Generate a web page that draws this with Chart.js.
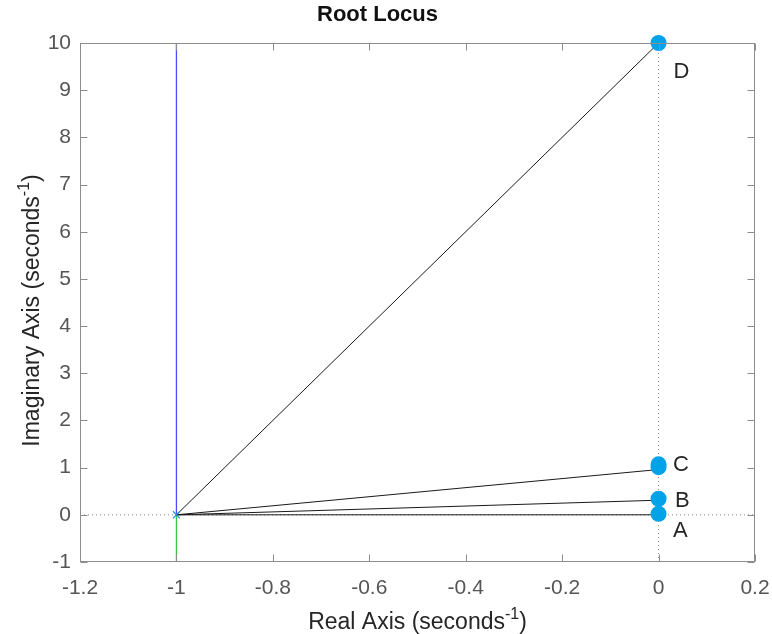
<!DOCTYPE html>
<html>
<head>
<meta charset="utf-8">
<script src="https://cdn.jsdelivr.net/npm/chart.js@4"></script>
<style>
html,body{margin:0;padding:0;background:#fff;}
#wrap{width:772px;height:634px;position:relative;}
</style>
</head>
<body>
<div id="wrap"><canvas id="c" width="772" height="634"></canvas></div>
<script>
// ---- data ----
const xTicks = [-1.2, -1, -0.8, -0.6, -0.4, -0.2, 0, 0.2];
const xTickLabels = ['-1.2', '-1', '-0.8', '-0.6', '-0.4', '-0.2', '0', '0.2'];
const yTicks = [-1, 0, 1, 2, 3, 4, 5, 6, 7, 8, 9, 10];
const yTickLabels = ['-1', '0', '1', '2', '3', '4', '5', '6', '7', '8', '9', '10'];

const poleX = -1;
const poleY = 0;
const branchEndX = [0, 0, 0, 0];
const branchEndY = [0, 0.31, 0.96, 10];
const markerX = [0, 0, 0, 0, 0];
const markerY = [0.02, 0.34, 1.01, 1.07, 10];
const markerNames = ['A', 'B', 'C', 'D'];
const labelX = [0.03, 0.034, 0.03, 0.031];
const labelY = [-0.34, 0.30, 1.05, 9.39];
const blueLocusY = [0, 10.2];
const greenLocusY = [0, -1];
const xRange = [-1.2, 0.2];
const yRange = [-1, 10];

const FONT = "'Liberation Sans', Arial, sans-serif";

const datasets = [];
// dotted axes lines (drawn first / bottom)
datasets.push({order: 6, data: [{x: xRange[0], y: 0}, {x: xRange[1], y: 0}], showLine: true, borderColor: '#8a8a8a', borderWidth: 1, borderDash: [1, 3], pointRadius: 0});
datasets.push({order: 6, data: [{x: 0, y: yRange[0]}, {x: 0, y: yRange[1]}], showLine: true, borderColor: '#8a8a8a', borderWidth: 1, borderDash: [1, 3], pointRadius: 0});
// blue and green branches
datasets.push({order: 5, data: blueLocusY.map(v => ({x: poleX, y: v})), showLine: true, borderColor: '#4a4aff', borderWidth: 1.3, pointRadius: 0});
datasets.push({order: 5, data: greenLocusY.map(v => ({x: poleX, y: v})), showLine: true, borderColor: '#3cc43c', borderWidth: 1.3, pointRadius: 0});
// black lines
for (let i = 0; i < branchEndY.length; i++) {
  datasets.push({order: 4, data: [{x: poleX, y: poleY}, {x: branchEndX[i], y: branchEndY[i]}], showLine: true, borderColor: '#1a1a1a', borderWidth: 1, pointRadius: 0});
}
// pole marker
datasets.push({order: 2, data: [{x: poleX, y: poleY}], showLine: false, pointStyle: 'crossRot', pointRadius: 5, borderColor: '#1e90d8', borderWidth: 1.2, backgroundColor: '#1e90d8'});
// end markers
datasets.push({order: 1, data: markerX.map((x, i) => ({x: x, y: markerY[i]})), showLine: false, pointStyle: 'circle', pointRadius: 8, backgroundColor: '#00a2e8', borderColor: '#00a2e8', borderWidth: 0, clip: false});

const framePlugin = {
  id: 'frame',
  afterDraw(chart) {
    const ctx = chart.ctx;
    const a = chart.chartArea;
    const xs = chart.scales.x, ys = chart.scales.y;
    ctx.save();
    ctx.strokeStyle = '#8c8c8c';
    ctx.lineWidth = 1;
    const L = Math.round(a.left) + 0.5, R = Math.round(a.right) - 0.5, T = Math.round(a.top) + 0.5, B = Math.round(a.bottom) - 0.5;
    ctx.strokeRect(L, T, R - L, B - T);
    const tl = 7;
    ctx.beginPath();
    xTicks.forEach(v => {
      const px = Math.round(xs.getPixelForValue(v)) + 0.5;
      ctx.moveTo(px, B); ctx.lineTo(px, B - tl);
      ctx.moveTo(px, T); ctx.lineTo(px, T + tl);
    });
    yTicks.forEach(v => {
      const py = Math.round(ys.getPixelForValue(v)) + 0.5;
      ctx.moveTo(L, py); ctx.lineTo(L + tl, py);
      ctx.moveTo(R, py); ctx.lineTo(R - tl, py);
    });
    ctx.stroke();
    // point labels
    ctx.fillStyle = '#262626';
    ctx.font = '22px ' + FONT;
    ctx.textAlign = 'left';
    ctx.textBaseline = 'middle';
    markerNames.forEach((n, i) => {
      ctx.fillText(n, xs.getPixelForValue(labelX[i]), ys.getPixelForValue(labelY[i]));
    });
    // axis titles with superscripts
    function drawSup(main, sup, tail, cx, baseline) {
      ctx.font = '23px ' + FONT;
      const w1 = ctx.measureText(main).width;
      const w3 = ctx.measureText(tail).width;
      ctx.font = '16px ' + FONT;
      const w2 = ctx.measureText(sup).width;
      const total = w1 + w2 + w3;
      let x = cx - total / 2;
      ctx.textAlign = 'left';
      ctx.textBaseline = 'alphabetic';
      ctx.font = '23px ' + FONT;
      ctx.fillText(main, x, baseline);
      x += w1;
      ctx.font = '16px ' + FONT;
      ctx.fillText(sup, x, baseline - 10);
      x += w2;
      ctx.font = '23px ' + FONT;
      ctx.fillText(tail, x, baseline);
    }
    ctx.fillStyle = '#262626';
    drawSup('Real Axis (seconds', '-1', ')', (a.left + a.right) / 2, 629);
    ctx.save();
    ctx.translate(39, (a.top + a.bottom) / 2 + 8);
    ctx.rotate(-Math.PI / 2);
    drawSup('Imaginary Axis (seconds', '-1', ')', 0, 0);
    ctx.restore();
    ctx.restore();
  }
};

new Chart(document.getElementById('c'), {
  type: 'scatter',
  data: {datasets: datasets},
  options: {
    responsive: false,
    animation: false,
    events: [],
    layout: {padding: {top: 0, left: 0, right: 17, bottom: 0}},
    plugins: {
      legend: {display: false},
      tooltip: {enabled: false},
      title: {
        display: true,
        text: 'Root Locus',
        color: '#111',
        font: {family: FONT, size: 22, weight: 'bold'},
        padding: {top: 2, bottom: 14.6}
      }
    },
    scales: {
      x: {
        type: 'linear', min: xRange[0], max: xRange[1],
        grid: {display: false, drawTicks: false}, border: {display: false},
        afterBuildTicks: s => { s.ticks = xTicks.map(v => ({value: v})); },
        afterFit: s => { s.height = 72; s.paddingLeft = 0; s.paddingRight = 0; },
        ticks: {
          color: '#555', font: {family: FONT, size: 21}, padding: 14, maxRotation: 0, autoSkip: false,
          callback: (v) => { const i = xTicks.findIndex(t => Math.abs(t - v) < 1e-9); return i >= 0 ? xTickLabels[i] : ''; }
        }
      },
      y: {
        type: 'linear', min: yRange[0], max: yRange[1],
        grid: {display: false, drawTicks: false}, border: {display: false},
        afterBuildTicks: s => { s.ticks = yTicks.map(v => ({value: v})); },
        afterFit: s => { s.width = 80; s.paddingTop = 0; s.paddingBottom = 0; },
        ticks: {
          color: '#555', font: {family: FONT, size: 21}, padding: 9, autoSkip: false,
          callback: (v) => { const i = yTicks.findIndex(t => Math.abs(t - v) < 1e-9); return i >= 0 ? yTickLabels[i] : ''; }
        }
      }
    }
  },
  plugins: [framePlugin]
});
</script>
</body>
</html>
